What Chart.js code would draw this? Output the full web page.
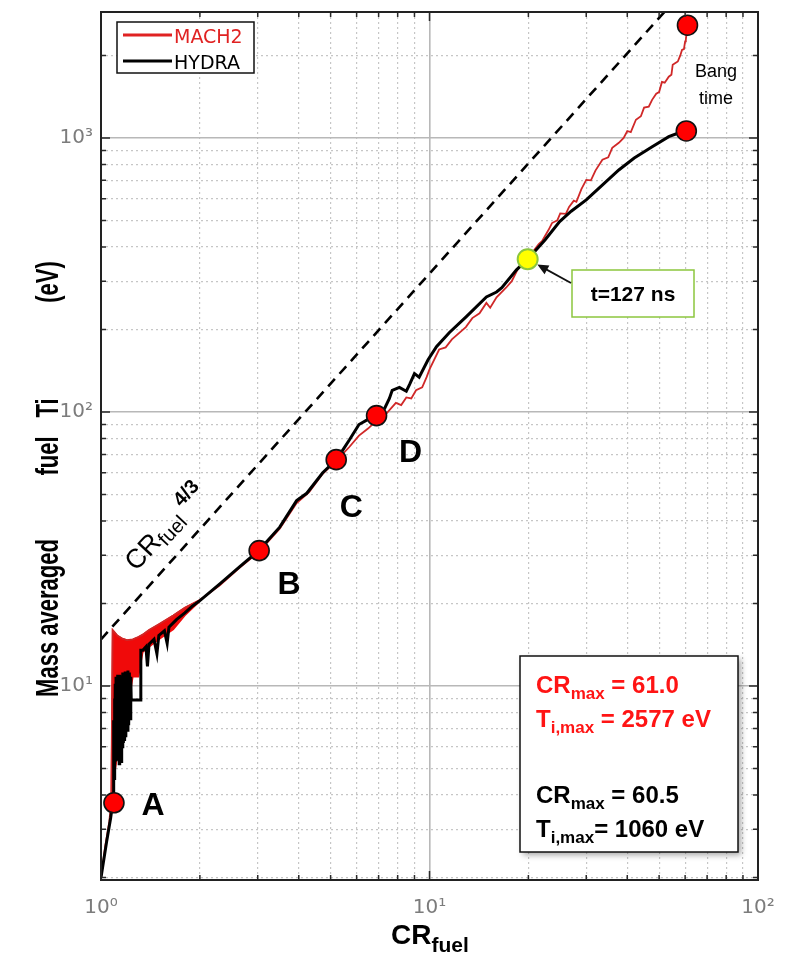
<!DOCTYPE html>
<html>
<head>
<meta charset="utf-8">
<script src="https://cdn.jsdelivr.net/npm/chart.js@4.4.1/dist/chart.umd.min.js"></script>
<style>
  html, body { margin: 0; padding: 0; background: #fff; }
  #wrap { width: 792px; height: 960px; }
</style>
</head>
<body>
<div id="wrap"><canvas id="chart" width="792" height="960"></canvas></div>
<script>
// values (CR_fuel, mass averaged fuel Ti in eV)
const hydraCR = [
  1.0, 1.04, 1.07, 1.09, 1.093, 1.096, 1.099, 1.102, 1.105, 1.108,
  1.111, 1.114, 1.117, 1.120, 1.124, 1.128, 1.132, 1.136, 1.140, 1.144,
  1.148, 1.152, 1.156, 1.160, 1.165, 1.170, 1.175, 1.180, 1.185, 1.190,
  1.196, 1.202, 1.208, 1.214, 1.220, 1.226, 1.232, 1.236, 1.32, 1.322,
  1.34, 1.37, 1.385, 1.40, 1.45, 1.48, 1.50, 1.56, 1.59, 1.61,
  1.7, 1.8, 1.9, 2.0, 2.3, 2.64, 3.02, 3.5, 3.94, 4.23,
  4.73, 5.21, 5.5, 5.7, 6.1, 6.5, 6.85, 7.3, 7.55, 7.7,
  8.1, 8.5, 8.7, 9.0, 9.3, 9.9, 10.5, 11.5, 12.9, 14.9,
  16.0, 16.6, 18.4, 19.9, 20.9, 22.5, 24.9, 27, 30, 33,
  37.7, 42, 47.5, 53.5, 57, 60.5
];
const hydraTi = [
  2.0, 2.7, 3.3, 3.9, 7.5, 4.6, 9.0, 5.0, 10.2, 5.3,
  10.8, 5.6, 10.5, 6.0, 11.0, 5.4, 10.6, 5.2, 11.0, 5.5,
  10.4, 5.3, 10.9, 6.0, 11.2, 6.2, 10.8, 6.3, 11.3, 6.5,
  11.0, 6.9, 11.4, 7.2, 11.2, 7.6, 10.8, 8.9, 8.9, 13.5,
  13.5, 13.9, 11.8, 14.2, 14.8, 13.1, 15.3, 15.9, 14.3, 16.4,
  17.5, 18.5, 19.6, 20.5, 23.6, 27.2, 31.2, 38, 47.5, 50.5,
  60, 67, 74, 79, 90, 94, 97, 103, 112, 120,
  123, 119, 126, 138, 134, 155, 173, 195, 222, 263,
  274, 284, 330, 361, 385, 425, 495, 540, 594, 660,
  764, 845, 927, 1010, 1040, 1060
];

const mach2CR = [
  1.0, 1.03, 1.06, 1.075, 1.085, 1.1, 1.12, 1.16, 1.2, 1.25,
  1.3, 1.34, 1.4, 1.5, 1.66, 1.8, 2.0, 2.3, 2.64, 3.02,
  3.5, 3.94, 4.3, 4.73, 5.21, 5.7, 6.1, 6.5, 6.9, 7.3,
  7.9, 8.2, 8.5, 8.8, 9.1, 9.5, 9.8, 10, 10.7, 11.2,
  11.7, 12.9, 13.5, 14.2, 14.9, 15.3, 16, 17.1, 17.8, 18.7,
  19.9, 20.5, 21, 21.5, 22, 23, 23.6, 24.5, 25, 26,
  26.6, 27.5, 28, 29, 30, 31, 32, 33.6, 35, 36,
  37.7, 39, 40, 41, 42.5, 44, 45, 46.5, 47.6, 49,
  50, 51, 52, 53.5, 54.5, 55, 56.2, 57, 58, 58.7,
  59.5, 60, 60.3, 60.6, 61
];
const mach2Ti = [
  2.0, 2.6, 3.2, 3.8, 16, 15.7, 15.3, 14.9, 14.7, 14.8,
  15.1, 15.4, 16.0, 16.8, 18.1, 19.3, 20.6, 23.3, 27, 30.8,
  37.5, 46.5, 51, 59.5, 66.5, 74.5, 82, 87, 93, 97,
  108, 106, 113, 112, 120, 123, 134, 143, 169, 172,
  184, 204, 220, 229, 250, 240, 262, 284, 300, 338,
  361, 380, 395, 410, 420, 460, 489, 500, 530, 528,
  560, 590, 585, 650, 703, 700, 760, 832, 850, 920,
  960, 1000, 1060, 1050, 1165, 1200, 1290, 1300, 1377, 1450,
  1470, 1600, 1590, 1672, 1700, 1850, 1880, 1900, 2000, 2094,
  2110, 2250, 2281, 2400, 2577
];

// noisy early MACH2 band (upper / lower envelope)
const bandCR  = [1.075, 1.085, 1.1, 1.12, 1.16, 1.2, 1.25, 1.3, 1.34, 1.4, 1.5, 1.66, 1.8, 2.0];
const bandTop = [3.8, 16, 15.7, 15.3, 14.9, 14.7, 14.8, 15.1, 15.4, 16.0, 16.8, 18.1, 19.3, 20.6];
const bandLow = [3.8, 4.2, 4.8, 5.5, 6.5, 8.0, 10.8, 10.8, 13.3, 13.9, 14.8, 16.1, 18.1, 20.4];

// CR^4/3 reference line
const refCR = [1, 53.5];
const refTi = [14.8, 3000];

// marked stages
const stageNames = ['A', 'B', 'C', 'D'];
const stageCR = [1.095, 3.03, 5.2, 6.9];
const stageTi = [3.75, 31.2, 67, 97];
const bangCR = [61.0, 60.5];
const bangTi = [2577, 1060];
const peakCR = [19.9];
const peakTi = [361];

// axis ticks
const xGridValues = [1, 2, 3, 4, 5, 6, 7, 8, 9, 10, 20, 30, 40, 50, 60, 70, 80, 90, 100];
const yGridValues = [2, 3, 4, 5, 6, 7, 8, 9, 10, 20, 30, 40, 50, 60, 70, 80, 90,
  100, 200, 300, 400, 500, 600, 700, 800, 900, 1000, 2000];
const xDecades = [1, 10, 100];
const xDecadeLabels = ['10\u2070', '10\u00b9', '10\u00b2'];
const yDecades = [10, 100, 1000];
const yDecadeLabels = ['10\u00b9', '10\u00b2', '10\u00b3'];

const pts = (xs, ys) => xs.map((x, i) => ({ x: x, y: ys[i] }));
const isDecade = v => Math.abs(Math.log10(v) - Math.round(Math.log10(v))) < 1e-9;

function drawRuns(ctx, x, y, runs, align) {
  let w = 0;
  runs.forEach(r => { ctx.font = r.font; r.w = ctx.measureText(r.text).width; w += r.w; });
  let cx = align === 'center' ? x - w / 2 : x;
  ctx.textAlign = 'left';
  ctx.textBaseline = 'alphabetic';
  runs.forEach(r => {
    ctx.font = r.font;
    ctx.fillStyle = r.color || '#000';
    ctx.fillText(r.text, cx, y + (r.dy || 0));
    cx += r.w;
  });
}

const gridColor = c => (c.tick && isDecade(c.tick.value)) ? '#b8b8b8' : '#c6c6c6';
const gridWidth = c => (c.tick && isDecade(c.tick.value)) ? 1.6 : 1.2;
const gridDash = c => (c.tick && !isDecade(c.tick.value)) ? [2, 3] : [];

// keep the plot box where the figure has it
const noPad = s => { s.paddingTop = 0; s.paddingBottom = 0; s.paddingLeft = 0; s.paddingRight = 0; };

const decor = {
  id: 'decor',
  beforeDraw(chart) {
    const ctx = chart.ctx;
    ctx.save();
    ctx.fillStyle = '#fff';
    ctx.fillRect(0, 0, chart.width, chart.height);
    ctx.restore();
  },
  afterDraw(chart) {
    const ctx = chart.ctx;
    const a = chart.chartArea;
    const xs = chart.scales.x, ys = chart.scales.y;
    ctx.save();

    // inward ticks on all four sides
    ctx.strokeStyle = '#2a2a2a';
    ctx.lineWidth = 1.5;
    ctx.beginPath();
    xGridValues.forEach(v => {
      const px = xs.getPixelForValue(v), len = isDecade(v) ? 9 : 5;
      ctx.moveTo(px, a.bottom); ctx.lineTo(px, a.bottom - len);
      ctx.moveTo(px, a.top); ctx.lineTo(px, a.top + len);
    });
    yGridValues.forEach(v => {
      const py = ys.getPixelForValue(v), len = isDecade(v) ? 9 : 5;
      ctx.moveTo(a.left, py); ctx.lineTo(a.left + len, py);
      ctx.moveTo(a.right, py); ctx.lineTo(a.right - len, py);
    });
    ctx.stroke();

    // frame
    ctx.strokeStyle = '#222';
    ctx.lineWidth = 2;
    ctx.strokeRect(a.left, a.top, a.right - a.left, a.bottom - a.top);

    // legend
    ctx.fillStyle = '#fff';
    ctx.fillRect(117, 22, 137, 51);
    ctx.strokeStyle = '#111';
    ctx.lineWidth = 1.5;
    ctx.strokeRect(117, 22, 137, 51);
    const legendSets = chart.data.datasets.filter(d => d.legendRank !== undefined)
      .sort((p, q) => p.legendRank - q.legendRank);
    legendSets.forEach((d, i) => {
      const ly = 35 + i * 26;
      ctx.strokeStyle = d.legendColor;
      ctx.lineWidth = 3;
      ctx.beginPath(); ctx.moveTo(123, ly); ctx.lineTo(172, ly); ctx.stroke();
      drawRuns(ctx, 174, ly + 8, [{ text: d.label, font: '19px "DejaVu Sans"', color: d.legendColor }]);
    });

    // stage letters
    const offs = [[39, 12], [30, 43], [15, 57], [34, 46]];
    stageNames.forEach((n, i) => {
      const px = xs.getPixelForValue(stageCR[i]), py = ys.getPixelForValue(stageTi[i]);
      ctx.font = 'bold 32px "Liberation Sans"';
      ctx.fillStyle = '#000';
      ctx.textAlign = 'center';
      ctx.textBaseline = 'alphabetic';
      ctx.fillText(n, px + offs[i][0], py + offs[i][1]);
    });

    // Bang time
    ctx.font = '18px "Liberation Sans"';
    ctx.textAlign = 'center';
    ctx.fillStyle = '#000';
    ctx.fillText('Bang', 716, 77);
    ctx.fillText('time', 716, 104);

    // t=127 ns box + arrow
    const yx = xs.getPixelForValue(peakCR[0]), yy = ys.getPixelForValue(peakTi[0]);
    ctx.fillStyle = '#fff';
    ctx.fillRect(572, 270, 122, 47);
    ctx.strokeStyle = '#8cc63e';
    ctx.lineWidth = 1.5;
    ctx.strokeRect(572, 270, 122, 47);
    ctx.font = 'bold 21px "Liberation Sans"';
    ctx.fillStyle = '#000';
    ctx.textAlign = 'center';
    ctx.fillText('t=127 ns', 633, 301);
    const tx = 571, ty = 283;
    const ang = Math.atan2(yy - ty, yx - tx);
    const hx = yx - Math.cos(ang) * 11, hy = yy - Math.sin(ang) * 11;
    ctx.strokeStyle = '#111';
    ctx.lineWidth = 1.8;
    ctx.beginPath(); ctx.moveTo(tx, ty); ctx.lineTo(hx - Math.cos(ang) * 6, hy - Math.sin(ang) * 6); ctx.stroke();
    ctx.fillStyle = '#111';
    ctx.beginPath();
    ctx.moveTo(hx, hy);
    ctx.lineTo(hx - Math.cos(ang) * 11 + Math.sin(ang) * 5, hy - Math.sin(ang) * 11 - Math.cos(ang) * 5);
    ctx.lineTo(hx - Math.cos(ang) * 11 - Math.sin(ang) * 5, hy - Math.sin(ang) * 11 + Math.cos(ang) * 5);
    ctx.closePath(); ctx.fill();

    // stats box
    ctx.save();
    ctx.shadowColor = 'rgba(0,0,0,0.35)';
    ctx.shadowBlur = 6;
    ctx.shadowOffsetX = 3;
    ctx.shadowOffsetY = 3;
    ctx.fillStyle = '#fff';
    ctx.fillRect(520, 656, 218, 196);
    ctx.restore();
    ctx.strokeStyle = '#111';
    ctx.lineWidth = 1.5;
    ctx.strokeRect(520, 656, 218, 196);
    const big = 'bold 24px "Liberation Sans"', small = 'bold 17px "Liberation Sans"';
    const red = '#ff1414';
    drawRuns(ctx, 536, 693, [{ text: 'CR', font: big, color: red }, { text: 'max', font: small, color: red, dy: 6 },
      { text: ' = 61.0', font: big, color: red }]);
    drawRuns(ctx, 536, 727, [{ text: 'T', font: big, color: red }, { text: 'i,max', font: small, color: red, dy: 6 },
      { text: ' = 2577 eV', font: big, color: red }]);
    drawRuns(ctx, 536, 803, [{ text: 'CR', font: big }, { text: 'max', font: small, dy: 6 }, { text: ' = 60.5', font: big }]);
    drawRuns(ctx, 536, 837, [{ text: 'T', font: big }, { text: 'i,max', font: small, dy: 6 }, { text: '= 1060 eV', font: big }]);

    // CR_fuel^4/3 label along the dashed line
    ctx.save();
    ctx.translate(136, 572);
    ctx.rotate(-47 * Math.PI / 180);
    drawRuns(ctx, 0, 0, [{ text: 'CR', font: '27px "Liberation Sans"' }, { text: 'fuel', font: '20px "Liberation Sans"', dy: 5 }]);
    ctx.font = '27px "Liberation Sans"';
    const wcr = ctx.measureText('CR').width;
    drawRuns(ctx, wcr + 39, -11, [{ text: '4/3', font: 'bold 20px "Liberation Sans"' }]);
    ctx.restore();

    // y axis title (condensed bold)
    ctx.save();
    ctx.translate(58, 0);
    ctx.rotate(-Math.PI / 2);
    ctx.font = 'bold 31px "Liberation Sans"';
    ctx.fillStyle = '#000';
    ctx.textAlign = 'center';
    ctx.textBaseline = 'alphabetic';
    [['Mass averaged', 618], ['fuel', 456], ['Ti', 408], ['(eV)', 282]].forEach(w => {
      ctx.save();
      ctx.translate(-w[1], 0);
      ctx.scale(0.71, 1);
      ctx.fillText(w[0], 0, 0);
      ctx.restore();
    });
    ctx.restore();

    // x axis title
    drawRuns(ctx, 430, 944, [{ text: 'CR', font: 'bold 28px "Liberation Sans"' },
      { text: 'fuel', font: 'bold 21px "Liberation Sans"', dy: 8 }], 'center');

    ctx.restore();
  }
};

new Chart(document.getElementById('chart').getContext('2d'), {
  type: 'scatter',
  data: {
    datasets: [
      { label: 'peak', data: pts(peakCR, peakTi), pointRadius: 10, pointBackgroundColor: '#ffff00',
        pointBorderColor: '#8cc63e', pointBorderWidth: 2, order: 0 },
      { label: 'stages', data: pts(stageCR, stageTi).concat(pts(bangCR, bangTi)), pointRadius: 10,
        pointBackgroundColor: '#ff0000', pointBorderColor: '#111', pointBorderWidth: 1.6, order: 0 },
      { label: 'HYDRA', legendRank: 1, legendColor: '#000', data: pts(hydraCR, hydraTi), showLine: true, pointRadius: 0,
        borderColor: '#000', borderWidth: 3, order: 1 },
      { label: 'MACH2', legendRank: 0, legendColor: '#e02222', data: pts(mach2CR, mach2Ti), showLine: true, pointRadius: 0,
        borderColor: '#d02828', borderWidth: 1.8, order: 2 },
      { label: 'band top', data: pts(bandCR, bandTop), showLine: true, pointRadius: 0,
        borderColor: '#f00a0a', borderWidth: 1.5, fill: '+1', backgroundColor: '#f00a0a', order: 3 },
      { label: 'band low', data: pts(bandCR, bandLow), showLine: true, pointRadius: 0,
        borderColor: '#f00a0a', borderWidth: 1.5, order: 3 },
      { label: 'CR^4/3', data: pts(refCR, refTi), showLine: true, pointRadius: 0,
        borderColor: '#000', borderWidth: 2.6, borderDash: [10, 7], order: 4 }
    ]
  },
  options: {
    responsive: false,
    animation: false,
    devicePixelRatio: 1,
    events: [],
    layout: { padding: { top: 8, right: 34, left: 0, bottom: 0 } },
    plugins: { legend: { display: false }, tooltip: { enabled: false } },
    scales: {
      x: {
        type: 'logarithmic', min: 1, max: 100,
        afterBuildTicks: s => { s.ticks = xGridValues.map(v => ({ value: v, major: isDecade(v) })); },
        afterFit: s => { s.height = 80; noPad(s); },
        ticks: {
          autoSkip: false, maxRotation: 0, padding: 16, color: '#7c7c7c',
          font: { family: 'DejaVu Sans', size: 20 },
          callback: v => { const k = xDecades.indexOf(v); return k >= 0 ? xDecadeLabels[k] : ''; }
        },
        grid: { color: gridColor, lineWidth: gridWidth, drawTicks: false },
        border: { display: false, dash: gridDash }
      },
      y: {
        type: 'logarithmic', min: 1.96, max: 2880,
        afterBuildTicks: s => { s.ticks = yGridValues.map(v => ({ value: v, major: isDecade(v) })); },
        afterFit: s => { s.width = 101; noPad(s); },
        ticks: {
          autoSkip: false, padding: 8, color: '#7c7c7c',
          font: { family: 'DejaVu Sans', size: 20 },
          callback: v => { const k = yDecades.indexOf(v); return k >= 0 ? yDecadeLabels[k] : ''; }
        },
        grid: { color: gridColor, lineWidth: gridWidth, drawTicks: false },
        border: { display: false, dash: gridDash }
      }
    }
  },
  plugins: [decor]
});
</script>
</body>
</html>
